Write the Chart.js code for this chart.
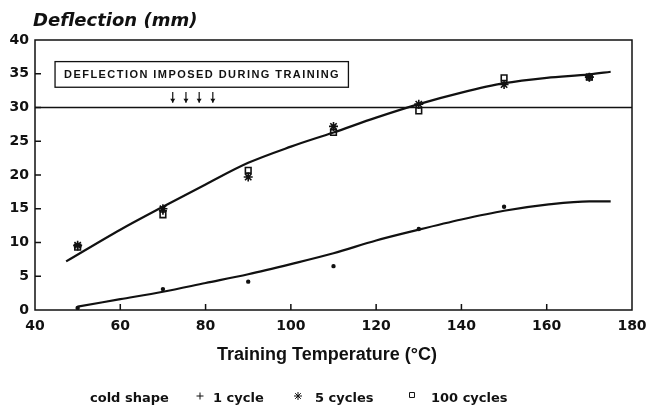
<!DOCTYPE html>
<html>
<head>
<meta charset="utf-8">
<script src="https://cdn.jsdelivr.net/npm/chart.js@4/dist/chart.umd.min.js"></script>
<style>
  html, body { margin: 0; padding: 0; background: #fff; }
  #wrap { width: 648px; height: 409px; position: relative; }
</style>
</head>
<body>
<div id="wrap"><canvas id="chart" width="648" height="409"></canvas></div>
<script>
// fitted curves
const upperCurveT = [47.3, 60, 70, 80, 90, 100, 110, 120, 130, 140, 150, 160, 170, 175];
const upperCurveD = [7.2, 11.9, 15.3, 18.6, 21.8, 24.2, 26.3, 28.5, 30.5, 32.2, 33.6, 34.4, 34.9, 35.3];
const lowerCurveT = [50, 60, 70, 80, 90, 100, 110, 120, 130, 140, 150, 160, 170, 175];
const lowerCurveD = [0.5, 1.6, 2.7, 4.0, 5.3, 6.8, 8.4, 10.3, 11.9, 13.4, 14.7, 15.6, 16.1, 16.1];

// measured points
const coldT = [50, 70, 90, 110, 130, 150];
const coldD = [0.3, 3.1, 4.2, 6.5, 12.0, 15.3];
const cycle1T = [50, 70, 170];
const cycle1D = [9.4, 14.7, 34.5];
const cycle5T = [50, 70, 90, 110, 130, 150, 170];
const cycle5D = [9.6, 15.0, 19.7, 27.2, 30.5, 33.4, 34.5];
const cycle100T = [50, 70, 90, 110, 130, 150, 170];
const cycle100D = [9.3, 14.1, 20.7, 26.3, 29.5, 34.4, 34.5];

const xTicks = [40, 60, 80, 100, 120, 140, 160, 180];
const yTicks = [0, 5, 10, 15, 20, 25, 30, 35, 40];
const imposed = 30;

const INK = "#111";
const FONT = "'DejaVu Sans', Arial, sans-serif";
const toXY = (t, d) => t.map((v, i) => ({ x: v, y: d[i] }));

function curve(t, d) {
  return {
    data: toXY(t, d), showLine: true, pointRadius: 0,
    borderColor: INK, borderWidth: 2.2, cubicInterpolationMode: "monotone"
  };
}

function marks(t, d, style, r, fill) {
  return {
    data: toXY(t, d), showLine: false, pointStyle: style, pointRadius: r,
    borderColor: INK, backgroundColor: fill, borderWidth: 1.6
  };
}

const decor = {
  id: "decor",
  beforeDatasetsDraw(chart) {
    const { ctx, chartArea: a, scales: { x, y } } = chart;
    ctx.save();
    ctx.strokeStyle = INK;
    ctx.lineWidth = 1.5;
    ctx.strokeRect(a.left, a.top, a.right - a.left, a.bottom - a.top);
    // inner ticks
    ctx.beginPath();
    xTicks.slice(1, -1).forEach(v => {
      const px = x.getPixelForValue(v);
      ctx.moveTo(px, a.bottom); ctx.lineTo(px, a.bottom - 6);
    });
    yTicks.slice(1, -1).forEach(v => {
      const py = y.getPixelForValue(v);
      ctx.moveTo(a.left, py); ctx.lineTo(a.left + 6, py);
    });
    ctx.stroke();
    // imposed deflection line
    ctx.beginPath();
    ctx.lineWidth = 1.6;
    ctx.moveTo(a.left, y.getPixelForValue(imposed));
    ctx.lineTo(a.right, y.getPixelForValue(imposed));
    ctx.stroke();
    // label box
    const bx1 = x.getPixelForValue(44.7), bx2 = x.getPixelForValue(113.5);
    const by1 = y.getPixelForValue(36.8), by2 = y.getPixelForValue(33.0);
    ctx.lineWidth = 1.3;
    ctx.strokeRect(bx1, by1, bx2 - bx1, by2 - by1);
    ctx.fillStyle = INK;
    ctx.font = "bold 11px 'Liberation Sans', Arial, sans-serif";
    ctx.letterSpacing = "1.45px";
    ctx.textBaseline = "middle";
    ctx.textAlign = "left";
    ctx.fillText("DEFLECTION IMPOSED DURING TRAINING", bx1 + 9, (by1 + by2) / 2 + 1);
    ctx.letterSpacing = "0px";
    // arrows
    ctx.lineWidth = 1.2;
    [72.3, 75.4, 78.5, 81.7].forEach(v => {
      const px = x.getPixelForValue(v);
      const top = y.getPixelForValue(32.3), bot = y.getPixelForValue(30.7);
      ctx.beginPath();
      ctx.moveTo(px, top); ctx.lineTo(px, bot); ctx.stroke();
      ctx.beginPath();
      ctx.moveTo(px - 2.5, bot - 4); ctx.lineTo(px, bot); ctx.lineTo(px + 2.5, bot - 4);
      ctx.fill();
    });
    ctx.restore();
  },
  afterDraw(chart) {
    const { ctx } = chart;
    ctx.save();
    ctx.fillStyle = INK;
    ctx.textBaseline = "middle";
    ctx.textAlign = "left";
    ctx.font = "italic bold 18px " + FONT;
    ctx.fillText("Deflection (mm)", 33, 21);
    ctx.textAlign = "center";
    ctx.font = "bold 18px 'Liberation Sans', Arial, sans-serif";
    ctx.fillText("Training Temperature (\u00B0C)", 327, 355);
    // legend
    ctx.font = "bold 13px " + FONT;
    ctx.textAlign = "left";
    const ly = 399;
    ctx.fillText("cold shape", 90, ly);
    ctx.fillText("1 cycle", 213, ly);
    ctx.fillText("5 cycles", 315, ly);
    ctx.fillText("100 cycles", 431, ly);
    ctx.strokeStyle = INK;
    const pt = (style, r, px, py) =>
      Chart.helpers.drawPoint(ctx, { pointStyle: style, radius: r, rotation: 0, borderWidth: 1.3 }, px, py);
    pt("cross", 3.5, 200, ly - 3);
    pt("star", 4, 298, ly - 3);
    ctx.fillStyle = "#fff";
    pt("rect", 3.5, 412, ly - 4);
    ctx.restore();
  }
};

new Chart(document.getElementById("chart"), {
  type: "scatter",
  data: {
    datasets: [
      curve(upperCurveT, upperCurveD),
      curve(lowerCurveT, lowerCurveD),
      marks(coldT, coldD, "circle", 1.4, INK),
      marks(cycle1T, cycle1D, "cross", 4, INK),
      marks(cycle5T, cycle5D, "star", 4.5, INK),
      marks(cycle100T, cycle100D, "rect", 4, "#fff")
    ]
  },
  options: {
    responsive: false,
    animation: false,
    layout: { padding: { left: 0, right: 16, top: 40, bottom: 0 } },
    plugins: { legend: { display: false }, tooltip: { enabled: false } },
    scales: {
      x: {
        type: "linear", min: 40, max: 180,
        afterFit: s => { s.height = 99; s.paddingLeft = 0; s.paddingRight = 0; },
        afterBuildTicks: s => { s.ticks = xTicks.map(v => ({ value: v })); },
        grid: { display: false, drawTicks: false }, border: { display: false },
        ticks: { color: INK, padding: 8, maxRotation: 0, font: { family: FONT, size: 14, weight: "bold" } }
      },
      y: {
        type: "linear", min: 0, max: 40,
        afterFit: s => { s.width = 35; s.paddingTop = 0; s.paddingBottom = 0; },
        afterBuildTicks: s => { s.ticks = yTicks.map(v => ({ value: v })); },
        grid: { display: false, drawTicks: false }, border: { display: false },
        ticks: { color: INK, padding: 6, font: { family: FONT, size: 14, weight: "bold" } }
      }
    }
  },
  plugins: [decor]
});
</script>
</body>
</html>
